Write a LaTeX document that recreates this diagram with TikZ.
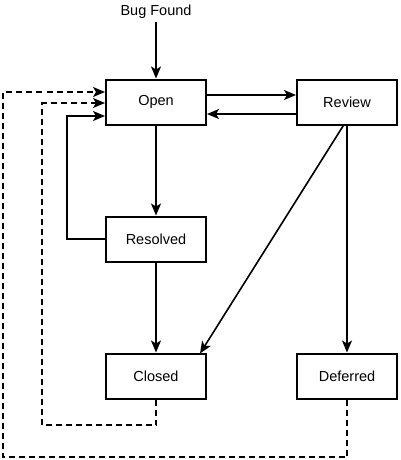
\documentclass[tikz,border=0pt]{standalone}
\usepackage{fontspec}
\setmainfont{Liberation Sans}
\usetikzlibrary{arrows.meta}
\begin{document}
\begin{tikzpicture}[x=1pt,y=-1pt,
  box/.style={draw,line width=2pt,minimum width=100pt,minimum height=45pt,inner sep=0pt,font=\fontsize{14.5}{16}\selectfont},
  conn/.style={line width=1.6pt,-{Stealth[length=12pt,width=10pt,inset=3pt]}},
  dconn/.style={conn,dash pattern=on 6pt off 4pt}]
\useasboundingbox (0,0) rectangle (400,460);
\node[box] (open) at (156,102) {Open};
\node[box] (review) at (347,102) {Review};
\node[box] (resolved) at (156,239) {Resolved};
\node[box] (closed) at (156,376) {Closed};
\node[box] (deferred) at (347,376) {Deferred};
\node[font=\fontsize{14.5}{16}\selectfont] (bug) at (156,12) {Bug Found};
\coordinate (c1) at (67,239);
\coordinate (c2) at (67,116);
\coordinate (d1) at (156,425);
\coordinate (d2) at (42,425);
\coordinate (d3) at (42,103);
\coordinate (e1) at (347,457);
\coordinate (e2) at (3,457);
\coordinate (e3) at (3,92);
\coordinate (r1) at (344,124.5);
\coordinate (r2) at (200,353.5);
\draw[conn] (bug) -- (open);
\draw[conn] ([yshift=7pt]open.east) -- ([yshift=7pt]review.west);
\draw[conn] ([yshift=-12pt]review.west) -- ([yshift=-12pt]open.east);
\draw[conn] (open) -- (resolved);
\draw[conn] (resolved) -- (closed);
\draw[conn] (resolved.west) -- (c1) -- (c2) -- (c2 -| open.west);
\draw[conn] (r1) -- (r2);
\draw[conn] (review) -- (deferred);
\draw[dconn] (closed.south) -- (d1) -- (d2) -- (d3) -- (d3 -| open.west);
\draw[dconn] (deferred.south) -- (e1) -- (e2) -- (e3) -- (e3 -| open.west);
\end{tikzpicture}
\end{document}
